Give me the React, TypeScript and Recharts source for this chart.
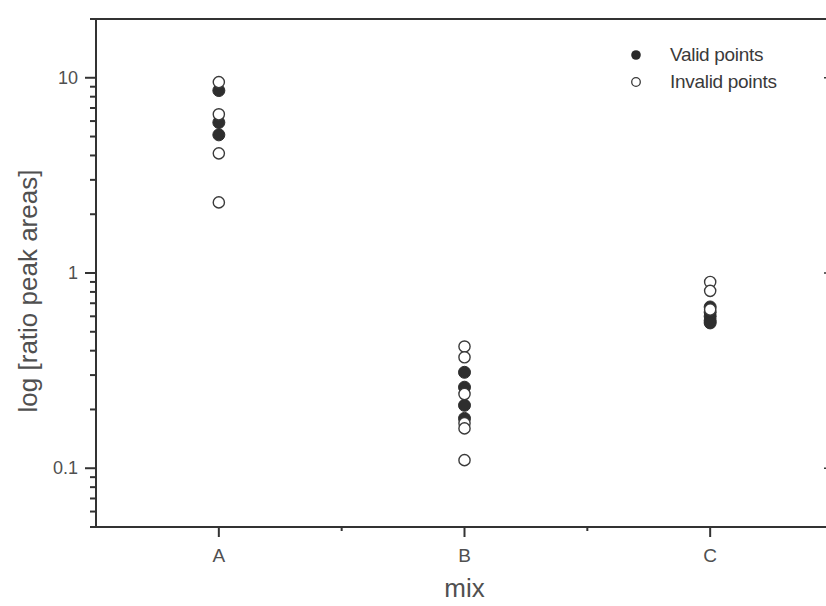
import React from 'react';
import {
    ScatterChart,
    Scatter,
    XAxis,
    YAxis,
    Legend,
} from 'recharts';

const categories = ['A', 'B', 'C'];

// valid points per mix
const validA = [8.6, 5.9, 5.1];
const validB = [0.31, 0.26, 0.21, 0.18];
const validC = [0.67, 0.63, 0.6, 0.57, 0.555];

// invalid points per mix
const invalidA = [9.5, 6.5, 4.1, 2.3];
const invalidB = [0.42, 0.37, 0.24, 0.17, 0.16, 0.11];
const invalidC = [0.9, 0.81, 0.65];

const majorY = [0.1, 1, 10];
const yTicks = [
    0.05, 0.06, 0.07, 0.08, 0.09, 0.1,
    0.2, 0.3, 0.4, 0.5, 0.6, 0.7, 0.8, 0.9, 1,
    2, 3, 4, 5, 6, 7, 8, 9, 10, 20,
];
const xTicks = [1, 1.5, 2, 2.5, 3];

const toPoints = (groups: number[][]) =>
    groups.flatMap((vals, i) => vals.map((v) => ({ x: i + 1, y: v })));

const validData = toPoints([validA, validB, validC]);
const invalidData = toPoints([invalidA, invalidB, invalidC]);

const FONT = '"Liberation Sans", Arial, sans-serif';
const AXIS = '#333';
const TEXT = '#505050';

const LeftTick = (props: any) => {
    const { x, y, payload } = props;
    const major = majorY.includes(payload.value);
    const len = major ? 11 : 6;
    return (
        <g>
            <line x1={x - len} y1={y} x2={x} y2={y} stroke={AXIS} strokeWidth={2} />
            {major && (
                <text x={x - 18} y={y} textAnchor="end" dominantBaseline="central"
                    fontSize={18} fill={TEXT} fontFamily={FONT}>
                    {payload.value}
                </text>
            )}
        </g>
    );
};

// mirror axis on the right: only the major ticks, pointing inward
const RightTick = (props: any) => {
    const { x, y, payload } = props;
    if (!majorY.includes(payload.value)) return <g />;
    return <line x1={x - 9} y1={y} x2={x} y2={y} stroke={AXIS} strokeWidth={1.5} />;
};

const BottomTick = (props: any) => {
    const { x, y, payload } = props;
    const major = Number.isInteger(payload.value);
    return (
        <g>
            <line x1={x} y1={y} x2={x} y2={y + (major ? 10 : 4)} stroke={AXIS} strokeWidth={2} />
            {major && (
                <text x={x} y={y + 28} textAnchor="middle" dominantBaseline="central"
                    fontSize={19} fill={TEXT} fontFamily={FONT}>
                    {categories[payload.value - 1]}
                </text>
            )}
        </g>
    );
};

const TopTick = (props: any) => {
    const { x, y, payload } = props;
    const major = Number.isInteger(payload.value);
    return <line x1={x} y1={y} x2={x} y2={y + (major ? 10 : 4)} stroke={AXIS} strokeWidth={1.5} />;
};

const YTitle = (props: any) => {
    const { x, y, height } = props.viewBox;
    const cx = x + 28;
    const cy = y + height / 2 + 18;
    return (
        <text x={cx} y={cy} transform={`rotate(-90, ${cx}, ${cy})`} textAnchor="middle"
            dominantBaseline="central" fontSize={26} fill={TEXT} fontFamily={FONT}>
            log [ratio peak areas]
        </text>
    );
};

const XTitle = (props: any) => {
    const { x, y, width } = props.viewBox;
    return (
        <text x={x + width / 2} y={y + 70} textAnchor="middle"
            fontSize={26} fill={TEXT} fontFamily={FONT}>
            mix
        </text>
    );
};

const ValidDot = (props: any) => (
    <circle cx={props.cx} cy={props.cy} r={6} fill="#2e2e2e" stroke="#2e2e2e" strokeWidth={1} />
);

const InvalidDot = (props: any) => (
    <circle cx={props.cx} cy={props.cy} r={5.6} fill="#fff" stroke="#3a3a3a" strokeWidth={1.4} />
);

const LegendBox = () => (
    <svg width={200} height={62}>
        <circle cx={16} cy={17} r={4.8} fill="#2a2a2a" />
        <text x={50} y={23} fontSize={19} fill="#3a3a3a" fontFamily={FONT} letterSpacing={-0.3}>
            Valid points
        </text>
        <circle cx={16} cy={44} r={4.3} fill="#fff" stroke="#3a3a3a" strokeWidth={1.3} />
        <text x={50} y={49.5} fontSize={19} fill="#3a3a3a" fontFamily={FONT} letterSpacing={-0.3}>
            Invalid points
        </text>
    </svg>
);

export default function App() {
    return (
        <div style={{ position: 'fixed', left: 0, top: 0, width: 826, height: 606, overflow: 'hidden', background: '#fff' }}>
            <ScatterChart width={840} height={606} margin={{ top: 19, right: 7, left: 0, bottom: 0 }}>
                <XAxis
                    xAxisId="bottom"
                    dataKey="x"
                    type="number"
                    domain={[0.5, 3.5]}
                    ticks={xTicks}
                    interval={0}
                    height={79}
                    tickSize={0}
                    tickMargin={0}
                    tick={<BottomTick />}
                    axisLine={{ stroke: AXIS, strokeWidth: 2 }}
                    allowDataOverflow
                    label={<XTitle />}
                />
                <XAxis
                    xAxisId="top"
                    orientation="top"
                    type="number"
                    domain={[0.5, 3.5]}
                    ticks={xTicks}
                    interval={0}
                    height={1}
                    mirror
                    tickSize={0}
                    tickMargin={0}
                    tick={<TopTick />}
                    axisLine={{ stroke: AXIS, strokeWidth: 2 }}
                    allowDataOverflow
                />
                <YAxis
                    yAxisId="left"
                    dataKey="y"
                    type="number"
                    scale="log"
                    domain={[0.05, 20]}
                    ticks={yTicks}
                    interval={0}
                    width={96}
                    tickSize={0}
                    tickMargin={0}
                    tick={<LeftTick />}
                    axisLine={{ stroke: AXIS, strokeWidth: 2 }}
                    allowDataOverflow
                    label={<YTitle />}
                />
                <YAxis
                    yAxisId="right"
                    orientation="right"
                    type="number"
                    scale="log"
                    domain={[0.05, 20]}
                    ticks={yTicks}
                    interval={0}
                    width={1}
                    mirror
                    tickSize={0}
                    tickMargin={0}
                    tick={<RightTick />}
                    axisLine={{ stroke: AXIS, strokeWidth: 2 }}
                    allowDataOverflow
                />
                <Legend
                    layout="vertical"
                    align="center"
                    verticalAlign="middle"
                    wrapperStyle={{ left: 620, top: 38, width: 200, height: 62 }}
                    content={<LegendBox />}
                />
                <Scatter
                    name="Valid points"
                    data={validData}
                    xAxisId="bottom"
                    yAxisId="left"
                    shape={<ValidDot />}
                    isAnimationActive={false}
                />
                <Scatter
                    name="Invalid points"
                    data={invalidData}
                    xAxisId="bottom"
                    yAxisId="left"
                    shape={<InvalidDot />}
                    isAnimationActive={false}
                />
            </ScatterChart>
        </div>
    );
}
